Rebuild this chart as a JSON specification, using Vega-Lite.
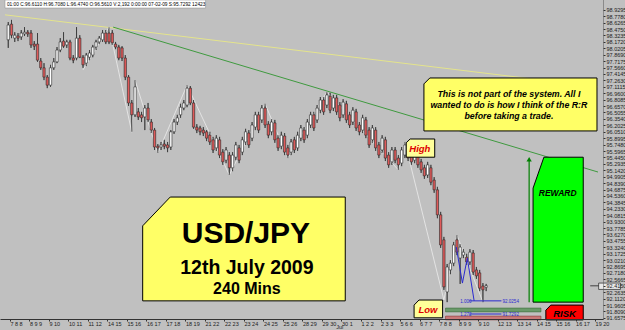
{
"$schema":"https://vega.github.io/schema/vega-lite/v6.json",
"width":603,"height":319,
"autosize":{"type":"none"},
"padding":{"left":0,"top":0,"right":22,"bottom":11},
"background":"#c0c0c0",
"config":{"view":{"stroke":null},"font":"Liberation Sans"},
"resolve":{"axis":{"x":"independent","y":"independent"}},
"datasets":{
"candles":[
{"t":0,"o":98.22,"h":98.64,"l":98.03,"c":98.57},{"t":1,"o":98.59,"h":98.69,"l":98.26,"c":98.33},{"t":2,"o":98.26,"h":98.40,"l":98.17,"c":98.33},{"t":3,"o":98.31,"h":98.38,"l":98.19,"c":98.26},{"t":4,"o":98.29,"h":98.45,"l":98.22,"c":98.38},{"t":5,"o":98.36,"h":98.52,"l":98.31,"c":98.40},{"t":6,"o":98.40,"h":98.45,"l":98.29,"c":98.36},{"t":7,"o":98.38,"h":98.45,"l":98.03,"c":98.10},{"t":8,"o":98.12,"h":98.19,"l":97.98,"c":98.07},{"t":9,"o":98.12,"h":98.38,"l":97.70,"c":97.74},
{"t":10,"o":97.72,"h":97.79,"l":97.51,"c":97.56},{"t":11,"o":97.56,"h":97.67,"l":97.27,"c":97.34},{"t":12,"o":97.34,"h":97.39,"l":97.08,"c":97.15},{"t":13,"o":97.15,"h":97.63,"l":97.11,"c":97.56},{"t":14,"o":97.56,"h":97.79,"l":97.51,"c":97.70},{"t":15,"o":97.70,"h":98.05,"l":97.67,"c":97.98},{"t":16,"o":97.98,"h":98.26,"l":97.93,"c":98.17},{"t":17,"o":98.19,"h":98.40,"l":98.03,"c":98.07},{"t":18,"o":98.10,"h":98.22,"l":98.03,"c":98.17},{"t":19,"o":98.17,"h":98.22,"l":97.74,"c":97.79},
{"t":20,"o":97.79,"h":97.86,"l":97.67,"c":97.74},{"t":21,"o":97.79,"h":98.52,"l":97.74,"c":98.26},{"t":22,"o":98.26,"h":98.33,"l":97.79,"c":97.81},{"t":23,"o":97.81,"h":97.86,"l":97.56,"c":97.63},{"t":24,"o":97.67,"h":97.91,"l":97.60,"c":97.86},{"t":25,"o":97.81,"h":97.98,"l":97.74,"c":97.91},{"t":26,"o":97.86,"h":98.10,"l":97.81,"c":98.05},{"t":27,"o":98.05,"h":98.22,"l":97.98,"c":98.17},{"t":28,"o":98.17,"h":98.31,"l":98.12,"c":98.26},{"t":29,"o":98.22,"h":98.45,"l":98.17,"c":98.38},
{"t":30,"o":98.38,"h":98.45,"l":98.12,"c":98.17},{"t":31,"o":98.38,"h":98.52,"l":98.12,"c":98.17},{"t":32,"o":98.38,"h":98.45,"l":98.10,"c":98.15},{"t":33,"o":98.12,"h":98.17,"l":98.00,"c":98.05},{"t":34,"o":98.05,"h":98.10,"l":97.74,"c":97.79},{"t":35,"o":98.03,"h":98.07,"l":97.72,"c":97.79},{"t":36,"o":97.79,"h":97.86,"l":97.27,"c":97.34},{"t":37,"o":97.34,"h":97.39,"l":96.66,"c":96.73},{"t":38,"o":96.73,"h":96.80,"l":96.05,"c":96.45},{"t":39,"o":96.45,"h":97.27,"l":96.40,"c":97.11},
{"t":40,"o":96.52,"h":96.61,"l":96.33,"c":96.40},{"t":41,"o":96.45,"h":96.52,"l":96.28,"c":96.38},{"t":42,"o":96.40,"h":96.68,"l":96.09,"c":96.61},{"t":43,"o":96.61,"h":96.73,"l":96.28,"c":96.33},{"t":44,"o":96.28,"h":96.35,"l":96.02,"c":96.09},{"t":45,"o":96.09,"h":96.14,"l":95.62,"c":95.69},{"t":46,"o":95.71,"h":95.76,"l":95.55,"c":95.67},{"t":47,"o":95.69,"h":95.81,"l":95.62,"c":95.74},{"t":48,"o":95.76,"h":95.86,"l":95.64,"c":95.71},{"t":49,"o":95.74,"h":95.81,"l":95.57,"c":95.67},
{"t":50,"o":95.69,"h":96.09,"l":95.62,"c":96.05},{"t":51,"o":96.05,"h":96.35,"l":96.00,"c":96.28},{"t":52,"o":96.28,"h":96.45,"l":96.21,"c":96.38},{"t":53,"o":96.45,"h":96.71,"l":96.38,"c":96.63},{"t":54,"o":96.61,"h":96.80,"l":96.56,"c":96.73},{"t":55,"o":96.68,"h":97.15,"l":96.63,"c":97.08},{"t":56,"o":97.08,"h":97.13,"l":96.68,"c":96.73},{"t":57,"o":96.73,"h":96.80,"l":96.12,"c":96.16},{"t":58,"o":96.16,"h":96.23,"l":96.02,"c":96.09},{"t":59,"o":96.14,"h":96.19,"l":95.97,"c":96.05},
{"t":60,"o":96.09,"h":96.16,"l":95.95,"c":96.02},{"t":61,"o":96.05,"h":96.09,"l":95.83,"c":95.90},{"t":62,"o":95.97,"h":96.05,"l":95.74,"c":95.81},{"t":63,"o":95.86,"h":95.93,"l":95.55,"c":95.62},{"t":64,"o":95.67,"h":95.97,"l":95.60,"c":95.90},{"t":65,"o":95.86,"h":95.93,"l":95.43,"c":95.50},{"t":66,"o":95.57,"h":95.64,"l":95.27,"c":95.34},{"t":67,"o":95.38,"h":95.69,"l":95.31,"c":95.62},{"t":68,"o":95.50,"h":95.57,"l":95.03,"c":95.20},{"t":69,"o":95.20,"h":95.57,"l":95.12,"c":95.50},
{"t":70,"o":95.45,"h":95.81,"l":95.38,"c":95.74},{"t":71,"o":95.67,"h":95.74,"l":95.31,"c":95.38},{"t":72,"o":95.57,"h":95.93,"l":95.50,"c":95.86},{"t":73,"o":95.81,"h":96.12,"l":95.74,"c":96.05},{"t":74,"o":96.02,"h":96.09,"l":95.67,"c":95.74},{"t":75,"o":95.90,"h":96.28,"l":95.83,"c":96.21},{"t":76,"o":96.16,"h":96.52,"l":96.09,"c":96.45},{"t":77,"o":96.45,"h":96.52,"l":96.02,"c":96.09},{"t":78,"o":96.33,"h":96.68,"l":96.26,"c":96.61},{"t":79,"o":96.61,"h":96.71,"l":96.14,"c":96.21},
{"t":80,"o":96.23,"h":96.30,"l":95.90,"c":95.97},{"t":81,"o":96.05,"h":96.35,"l":95.97,"c":96.28},{"t":82,"o":96.26,"h":96.33,"l":95.79,"c":95.86},{"t":83,"o":95.90,"h":95.97,"l":95.60,"c":95.67},{"t":84,"o":95.71,"h":96.05,"l":95.64,"c":95.97},{"t":85,"o":95.95,"h":96.02,"l":95.50,"c":95.57},{"t":86,"o":95.67,"h":95.74,"l":95.43,"c":95.50},{"t":87,"o":95.57,"h":95.88,"l":95.50,"c":95.81},{"t":88,"o":95.86,"h":95.93,"l":95.55,"c":95.62},{"t":89,"o":95.67,"h":96.05,"l":95.60,"c":95.97},
{"t":90,"o":95.90,"h":96.21,"l":95.83,"c":96.14},{"t":91,"o":96.09,"h":96.16,"l":95.79,"c":95.86},{"t":92,"o":95.97,"h":96.35,"l":95.90,"c":96.28},{"t":93,"o":96.21,"h":96.52,"l":96.14,"c":96.45},{"t":94,"o":96.45,"h":96.52,"l":96.07,"c":96.14},{"t":95,"o":96.33,"h":96.68,"l":96.26,"c":96.61},{"t":96,"o":96.56,"h":96.87,"l":96.49,"c":96.80},{"t":97,"o":96.80,"h":96.87,"l":96.45,"c":96.52},{"t":98,"o":96.68,"h":96.99,"l":96.61,"c":96.92},{"t":99,"o":96.89,"h":96.97,"l":96.49,"c":96.56},
{"t":100,"o":96.61,"h":96.92,"l":96.54,"c":96.85},{"t":101,"o":96.85,"h":96.92,"l":96.45,"c":96.52},{"t":102,"o":96.68,"h":96.75,"l":96.30,"c":96.38},{"t":103,"o":96.45,"h":96.82,"l":96.38,"c":96.75},{"t":104,"o":96.71,"h":96.78,"l":96.26,"c":96.33},{"t":105,"o":96.45,"h":96.52,"l":96.14,"c":96.21},{"t":106,"o":96.28,"h":96.63,"l":96.21,"c":96.56},{"t":107,"o":96.52,"h":96.59,"l":96.07,"c":96.14},{"t":108,"o":96.21,"h":96.28,"l":95.97,"c":96.05},{"t":109,"o":96.09,"h":96.45,"l":96.02,"c":96.38},
{"t":110,"o":96.33,"h":96.40,"l":95.90,"c":95.97},{"t":111,"o":96.09,"h":96.16,"l":95.67,"c":95.74},{"t":112,"o":95.86,"h":96.21,"l":95.79,"c":96.14},{"t":113,"o":96.09,"h":96.16,"l":95.60,"c":95.67},{"t":114,"o":95.74,"h":95.81,"l":95.43,"c":95.50},{"t":115,"o":95.62,"h":95.97,"l":95.55,"c":95.90},{"t":116,"o":95.86,"h":95.93,"l":95.36,"c":95.43},{"t":117,"o":95.50,"h":95.57,"l":95.20,"c":95.27},{"t":118,"o":95.34,"h":95.69,"l":95.27,"c":95.62},{"t":119,"o":95.62,"h":95.69,"l":95.31,"c":95.38},
{"t":120,"o":95.43,"h":95.50,"l":95.15,"c":95.27},{"t":121,"o":95.31,"h":95.69,"l":95.24,"c":95.62},{"t":122,"o":95.50,"h":95.81,"l":95.43,"c":95.74},{"t":123,"o":95.74,"h":95.81,"l":95.36,"c":95.43},{"t":124,"o":95.50,"h":95.57,"l":95.27,"c":95.34},{"t":125,"o":95.38,"h":95.69,"l":95.31,"c":95.62},{"t":126,"o":95.57,"h":95.64,"l":95.20,"c":95.27},{"t":127,"o":95.34,"h":95.41,"l":95.08,"c":95.15},{"t":128,"o":95.20,"h":95.27,"l":94.94,"c":95.01},{"t":129,"o":95.03,"h":95.34,"l":94.96,"c":95.27},
{"t":130,"o":95.20,"h":95.27,"l":94.79,"c":94.86},{"t":131,"o":94.91,"h":94.98,"l":94.61,"c":94.68},{"t":132,"o":94.68,"h":94.75,"l":94.01,"c":94.09},{"t":133,"o":94.09,"h":94.16,"l":93.31,"c":93.38},{"t":134,"o":93.50,"h":93.57,"l":92.32,"c":92.39},{"t":135,"o":92.27,"h":92.93,"l":92.03,"c":92.86},{"t":136,"o":92.79,"h":93.02,"l":92.69,"c":92.95},{"t":137,"o":92.95,"h":93.45,"l":92.88,"c":93.38},{"t":138,"o":93.50,"h":93.61,"l":93.14,"c":93.21},{"t":139,"o":93.07,"h":93.40,"l":92.46,"c":93.33},
{"t":140,"o":93.14,"h":93.28,"l":93.07,"c":93.21},{"t":141,"o":93.09,"h":93.17,"l":92.91,"c":92.98},{"t":142,"o":92.98,"h":93.28,"l":92.91,"c":93.21},{"t":143,"o":93.19,"h":93.26,"l":92.67,"c":92.74},{"t":144,"o":92.79,"h":92.86,"l":92.58,"c":92.65},{"t":145,"o":92.72,"h":92.79,"l":92.29,"c":92.36},{"t":146,"o":92.41,"h":92.48,"l":92.03,"c":92.32},{"t":147,"o":92.38,"h":92.46,"l":92.29,"c":92.42}
],
"lines":[
{"id":"yellow","t":-1,"p":98.81},{"id":"yellow","t":181.4,"p":97.11},
{"id":"green","t":32.27,"p":98.52},{"id":"green","t":181.4,"p":95.10}
],
"zigzag":[
{"t":23,"p":97.51},{"t":31,"p":98.52},{"t":38,"p":96.04},{"t":39,"p":97.27},{"t":46,"p":95.55},{"t":55,"p":97.15},{"t":68,"p":95.03},{"t":79,"p":96.71},{"t":86,"p":95.43},{"t":98,"p":96.99},{"t":120,"p":95.15},{"t":122,"p":95.81},{"t":134,"p":92.08},{"t":138,"p":93.61},{"t":146,"p":92.03}
],
"abcd":[
{"t":137.8,"p":93.33},{"t":139.7,"p":92.48},{"t":141.2,"p":93.07},{"t":143.3,"p":92.06}
],
"fib":[
{"id":"f1","t":141.8,"p":92.06},{"id":"f1","t":151.7,"p":92.06},
{"id":"f2","t":141.8,"p":91.75},{"id":"f2","t":151.7,"p":91.75}
],
"fibtext":[
{"t":139.05,"p":92.01,"label":"1.000"},{"t":152.06,"p":92.01,"label":"92.0254"},
{"t":139.05,"p":91.70,"label":"1.272"},{"t":152.06,"p":91.70,"label":"91.7292"}
],
"bars":[
{"id":"g","t":134.5,"t2":163.85,"p":91.89,"p2":91.80},
{"id":"r","t":134.5,"t2":163.85,"p":91.70,"p2":91.61}
],
"info":[{"t":-1,"t2":60.7,"p":99.16,"p2":98.97}],
"marker":[{"t":181.6,"t2":188.3,"p":92.48,"p2":92.33}],
"markerline":[{"t":179.0,"p":92.415},{"t":181.6,"p":92.415}],
"shapes":[
{"id":"big","i":0,"t":49.82,"p":94.51},{"id":"big","i":1,"t":103.66,"p":94.51},{"id":"big","i":2,"t":103.66,"p":92.06},{"id":"big","i":3,"t":41.35,"p":92.06},{"id":"big","i":4,"t":41.35,"p":93.83},{"id":"big","i":5,"t":49.82,"p":94.51},
{"id":"note","i":0,"t":129.67,"p":97.32},{"id":"note","i":1,"t":181.09,"p":97.32},{"id":"note","i":2,"t":181.09,"p":96.07},{"id":"note","i":3,"t":127.86,"p":96.07},{"id":"note","i":4,"t":127.86,"p":97.18},{"id":"note","i":5,"t":129.67,"p":97.32},
{"id":"high","i":0,"t":123.62,"p":95.88},{"id":"high","i":1,"t":131.18,"p":95.88},{"id":"high","i":2,"t":131.18,"p":95.45},{"id":"high","i":3,"t":122.41,"p":95.45},{"id":"high","i":4,"t":122.41,"p":95.79},{"id":"high","i":5,"t":123.62,"p":95.88},
{"id":"low","i":0,"t":126.34,"p":92.08},{"id":"low","i":1,"t":133.6,"p":92.08},{"id":"low","i":2,"t":133.6,"p":91.66},{"id":"low","i":3,"t":124.83,"p":91.66},{"id":"low","i":4,"t":124.83,"p":91.96},{"id":"low","i":5,"t":126.34,"p":92.08},
{"id":"reward","i":0,"t":164.76,"p":95.45},{"id":"reward","i":1,"t":176.86,"p":95.45},{"id":"reward","i":2,"t":176.86,"p":92.03},{"id":"reward","i":3,"t":161.43,"p":92.03},{"id":"reward","i":4,"t":161.43,"p":94.72},{"id":"reward","i":5,"t":164.76,"p":95.45},
{"id":"risk","i":0,"t":166.88,"p":91.96},{"id":"risk","i":1,"t":176.86,"p":91.96},{"id":"risk","i":2,"t":176.86,"p":91.61},{"id":"risk","i":3,"t":165.36,"p":91.61},{"id":"risk","i":4,"t":165.36,"p":91.84},{"id":"risk","i":5,"t":166.88,"p":91.96}
],
"arrow":[{"t":160.22,"p":92.03,"p2":95.36}],
"arrowhead":[{"t":160.22,"p":95.40}],
"notes":[
{"id":"title","t":73.1,"p":93.43,"label":"USD/JPY"},
{"id":"date","t":73.4,"p":92.69,"label":"12th July 2009"},
{"id":"tf","t":73.4,"p":92.22,"label":"240 Mins"},
{"id":"note","t":154.0,"p":96.88,"label":"This is not part of the system. All I"},
{"id":"note","t":154.0,"p":96.61,"label":"wanted to do is how I think of the R:R"},
{"id":"note","t":154.0,"p":96.34,"label":"before taking a trade."},
{"id":"hl","t":126.6,"p":95.57,"label":"High"},
{"id":"hl","t":129.1,"p":91.77,"label":"Low"},
{"id":"rw","t":169.0,"p":94.53,"label":"REWARD"},
{"id":"rk","t":171.1,"p":91.68,"label":"RISK"},
{"id":"info","t":-0.4,"p":99.02,"label":"01:00   C:96.6110   H:96.7080   L:96.4740   O:96.5610   V:2,192   0:00:00   07-02-09   S:95.7292   12423"},
{"id":"jul","t":100.9,"p":91.40,"label":"Jul"}
]
},
"layer":[
{"data":{"name":"marker"},"mark":{"type":"rect","fill":"#e8e8e8","stroke":"#222","strokeWidth":0.7},
 "encoding":{"x":{"field":"t","type":"quantitative","axis":null},"x2":{"field":"t2"},"y":{"field":"p","type":"quantitative","axis":null},"y2":{"field":"p2"}}},
{"data":{"name":"candles"},"mark":{"type":"rule","color":"#3a3a3a","strokeWidth":0.8},
 "encoding":{
  "x":{"field":"t","type":"quantitative","scale":{"domain":[-1,181.4],"nice":false,"zero":false},
   "axis":{"title":null,"grid":false,"zindex":1,"values":[0.5,6.5,12.5,18.5,24.5,30.5,36.5,42.5,48.5,54.5,60.5,66.5,72.5,78.5,84.5,90.5,96.5,102.5,108.5,114.5,120.5,126.5,132.5,138.5,144.5,150.5,156.5,162.5,168.5,174.5,180.5],
   "labelExpr":"['7 8 8','8 9 9','9 10','10 11','11 12','14 15','15 16','16 17','17 18','18 19','21 22','22 23','23 24','24 25','25 26','28 29','29 30','30 1','1 2 2','2 3 3','5 6 6','6 7 7','7 8 8','8 9 9','9 10','12 13','13 14','14 15','15 16','16 17','19 20'][round((datum.value-0.5)/6)]",
   "labelAlign":"left","labelBaseline":"top","labelFontSize":5.5,"labelColor":"#222","labelPadding":0,"tickSize":2,"tickColor":"#333","domainColor":"#333","labelFlush":false,"labelOverlap":false,"labelBound":false}},
  "y":{"field":"l","type":"quantitative","scale":{"domain":[91.632,99.16],"nice":false,"zero":false},
   "axis":{"orient":"right","title":null,"grid":false,"zindex":1,"format":".4f","labelFontSize":5.5,"labelColor":"#222","tickSize":2,"labelPadding":1,"tickColor":"#333","domainColor":"#555","domainDash":[1,1],"labelFlush":false,"labelOverlap":false,"labelBound":false,
   "values":[98.9295,98.7780,98.6265,98.4750,98.3235,98.1720,98.0205,97.8690,97.7175,97.5660,97.4145,97.2630,97.1115,96.9600,96.8085,96.6570,96.5055,96.3540,96.2025,96.0510,95.8995,95.7480,95.5965,95.4450,95.2935,95.1420,94.9905,94.8390,94.6875,94.5360,94.3845,94.2330,94.0815,93.9300,93.7785,93.6270,93.4755,93.3240,93.1725,93.0210,92.8695,92.7180,92.5665,92.4150,92.2635,92.1120,91.9605,91.8090,91.6575]}},
  "y2":{"field":"h"}}},
{"data":{"name":"markerline"},"mark":{"type":"line","color":"#222","strokeWidth":0.8},
 "encoding":{"x":{"field":"t","type":"quantitative","axis":null},"y":{"field":"p","type":"quantitative","axis":null}}},
{"data":{"name":"lines"},"transform":[{"filter":"datum.id=='yellow'"}],"mark":{"type":"line","color":"#e4e48c","strokeWidth":1},
 "encoding":{"x":{"field":"t","type":"quantitative","axis":null},"y":{"field":"p","type":"quantitative","axis":null}}},
{"data":{"name":"lines"},"transform":[{"filter":"datum.id=='green'"}],"mark":{"type":"line","color":"#3f9a3f","strokeWidth":1},
 "encoding":{"x":{"field":"t","type":"quantitative","axis":null},"y":{"field":"p","type":"quantitative","axis":null}}},
{"data":{"name":"zigzag"},"mark":{"type":"line","color":"#ececec","strokeWidth":0.8},
 "encoding":{"x":{"field":"t","type":"quantitative","axis":null},"y":{"field":"p","type":"quantitative","axis":null},"order":{"field":"t"}}},
{"data":{"name":"candles"},"mark":{"type":"rule","color":"#3a3a3a","strokeWidth":0.8},
 "encoding":{"x":{"field":"t","type":"quantitative","axis":null},"y":{"field":"l","type":"quantitative","axis":null},"y2":{"field":"h"}}},
{"data":{"name":"candles"},"mark":{"type":"bar","orient":"vertical","size":2.3,"stroke":"#2a2a2a","strokeWidth":0.6},
 "encoding":{"x":{"field":"t","type":"quantitative","axis":null},"y":{"field":"o","type":"quantitative","axis":null},"y2":{"field":"c"},
  "fill":{"condition":{"test":"datum.c < datum.o","value":"#e05a5a"},"value":"#ffffff"}}},
{"data":{"name":"abcd"},"mark":{"type":"line","color":"#2a2ad0","strokeWidth":1},
 "encoding":{"x":{"field":"t","type":"quantitative","axis":null},"y":{"field":"p","type":"quantitative","axis":null},"order":{"field":"t"}}},
{"data":{"name":"bars"},"transform":[{"filter":"datum.id=='g'"}],"mark":{"type":"rect","fill":"#6a9a6a","stroke":"#3d6b3d","strokeWidth":0.6},
 "encoding":{"x":{"field":"t","type":"quantitative","axis":null},"x2":{"field":"t2"},"y":{"field":"p","type":"quantitative","axis":null},"y2":{"field":"p2"}}},
{"data":{"name":"bars"},"transform":[{"filter":"datum.id=='r'"}],"mark":{"type":"rect","fill":"#c87878","stroke":"#8b3a3a","strokeWidth":0.6},
 "encoding":{"x":{"field":"t","type":"quantitative","axis":null},"x2":{"field":"t2"},"y":{"field":"p","type":"quantitative","axis":null},"y2":{"field":"p2"}}},
{"data":{"name":"fib"},"mark":{"type":"line","color":"#2a2ad0","strokeWidth":1},
 "encoding":{"x":{"field":"t","type":"quantitative","axis":null},"y":{"field":"p","type":"quantitative","axis":null},"detail":{"field":"id"}}},
{"data":{"name":"fibtext"},"mark":{"type":"text","fontSize":4.5,"color":"#2a2ad0","align":"left","baseline":"alphabetic"},
 "encoding":{"x":{"field":"t","type":"quantitative","axis":null},"y":{"field":"p","type":"quantitative","axis":null},"text":{"field":"label"}}},
{"data":{"name":"info"},"mark":{"type":"rect","fill":"#ffffff","stroke":"#888","strokeWidth":0.5},
 "encoding":{"x":{"field":"t","type":"quantitative","axis":null},"x2":{"field":"t2"},"y":{"field":"p","type":"quantitative","axis":null},"y2":{"field":"p2"}}},
{"data":{"name":"shapes"},"transform":[{"filter":"datum.id=='big'"}],"mark":{"type":"line","fill":"#ffff66","stroke":"#000000","strokeWidth":1},
 "encoding":{"x":{"field":"t","type":"quantitative","axis":null},"y":{"field":"p","type":"quantitative","axis":null},"order":{"field":"i"}}},
{"data":{"name":"shapes"},"transform":[{"filter":"datum.id=='note'"}],"mark":{"type":"line","fill":"#ffff66","stroke":"#000000","strokeWidth":1},
 "encoding":{"x":{"field":"t","type":"quantitative","axis":null},"y":{"field":"p","type":"quantitative","axis":null},"order":{"field":"i"}}},
{"data":{"name":"shapes"},"transform":[{"filter":"datum.id=='high' || datum.id=='low'"}],"mark":{"type":"line","fill":"#ffff99","stroke":"#000000","strokeWidth":1},
 "encoding":{"x":{"field":"t","type":"quantitative","axis":null},"y":{"field":"p","type":"quantitative","axis":null},"order":{"field":"i"},"detail":{"field":"id"}}},
{"data":{"name":"shapes"},"transform":[{"filter":"datum.id=='reward'"}],"mark":{"type":"line","fill":"#00ff00","stroke":"#000000","strokeWidth":1},
 "encoding":{"x":{"field":"t","type":"quantitative","axis":null},"y":{"field":"p","type":"quantitative","axis":null},"order":{"field":"i"}}},
{"data":{"name":"shapes"},"transform":[{"filter":"datum.id=='risk'"}],"mark":{"type":"line","fill":"#ff0000","stroke":"#000000","strokeWidth":1},
 "encoding":{"x":{"field":"t","type":"quantitative","axis":null},"y":{"field":"p","type":"quantitative","axis":null},"order":{"field":"i"}}},
{"data":{"name":"arrow"},"mark":{"type":"rule","color":"#008000","strokeWidth":1.2},
 "encoding":{"x":{"field":"t","type":"quantitative","axis":null},"y":{"field":"p","type":"quantitative","axis":null},"y2":{"field":"p2"}}},
{"data":{"name":"arrowhead"},"mark":{"type":"point","shape":"triangle-up","size":28,"filled":true,"color":"#008000","opacity":1},
 "encoding":{"x":{"field":"t","type":"quantitative","axis":null},"y":{"field":"p","type":"quantitative","axis":null}}},
{"data":{"name":"notes"},"transform":[{"filter":"datum.id=='title'"}],"mark":{"type":"text","fontSize":30,"fontWeight":"bold","color":"#000","align":"center","baseline":"alphabetic"},
 "encoding":{"x":{"field":"t","type":"quantitative","axis":null},"y":{"field":"p","type":"quantitative","axis":null},"text":{"field":"label"}}},
{"data":{"name":"notes"},"transform":[{"filter":"datum.id=='date'"}],"mark":{"type":"text","fontSize":19.5,"fontWeight":"bold","color":"#000","align":"center","baseline":"alphabetic"},
 "encoding":{"x":{"field":"t","type":"quantitative","axis":null},"y":{"field":"p","type":"quantitative","axis":null},"text":{"field":"label"}}},
{"data":{"name":"notes"},"transform":[{"filter":"datum.id=='tf'"}],"mark":{"type":"text","fontSize":16,"fontWeight":"bold","color":"#000","align":"center","baseline":"alphabetic"},
 "encoding":{"x":{"field":"t","type":"quantitative","axis":null},"y":{"field":"p","type":"quantitative","axis":null},"text":{"field":"label"}}},
{"data":{"name":"notes"},"transform":[{"filter":"datum.id=='note'"}],"mark":{"type":"text","fontSize":8.8,"fontWeight":"bold","fontStyle":"italic","color":"#000","align":"center","baseline":"alphabetic"},
 "encoding":{"x":{"field":"t","type":"quantitative","axis":null},"y":{"field":"p","type":"quantitative","axis":null},"text":{"field":"label"}}},
{"data":{"name":"notes"},"transform":[{"filter":"datum.id=='hl'"}],"mark":{"type":"text","fontSize":9.5,"fontWeight":"bold","fontStyle":"italic","color":"#e00000","align":"center","baseline":"alphabetic"},
 "encoding":{"x":{"field":"t","type":"quantitative","axis":null},"y":{"field":"p","type":"quantitative","axis":null},"text":{"field":"label"}}},
{"data":{"name":"notes"},"transform":[{"filter":"datum.id=='rw'"}],"mark":{"type":"text","fontSize":8.5,"fontWeight":"bold","fontStyle":"italic","color":"#000","align":"center","baseline":"alphabetic"},
 "encoding":{"x":{"field":"t","type":"quantitative","axis":null},"y":{"field":"p","type":"quantitative","axis":null},"text":{"field":"label"}}},
{"data":{"name":"notes"},"transform":[{"filter":"datum.id=='rk'"}],"mark":{"type":"text","fontSize":9.5,"fontWeight":"bold","fontStyle":"italic","color":"#000","align":"center","baseline":"alphabetic"},
 "encoding":{"x":{"field":"t","type":"quantitative","axis":null},"y":{"field":"p","type":"quantitative","axis":null},"text":{"field":"label"}}},
{"data":{"name":"notes"},"transform":[{"filter":"datum.id=='info'"}],"mark":{"type":"text","fontSize":4.8,"color":"#000","align":"left","baseline":"alphabetic"},
 "encoding":{"x":{"field":"t","type":"quantitative","axis":null},"y":{"field":"p","type":"quantitative","axis":null},"text":{"field":"label"}}},
{"data":{"name":"notes"},"transform":[{"filter":"datum.id=='jul'"}],"mark":{"type":"text","fontSize":5.5,"color":"#222","align":"left","baseline":"alphabetic"},
 "encoding":{"x":{"field":"t","type":"quantitative","axis":null},"y":{"field":"p","type":"quantitative","axis":null},"text":{"field":"label"}}}
]
}
